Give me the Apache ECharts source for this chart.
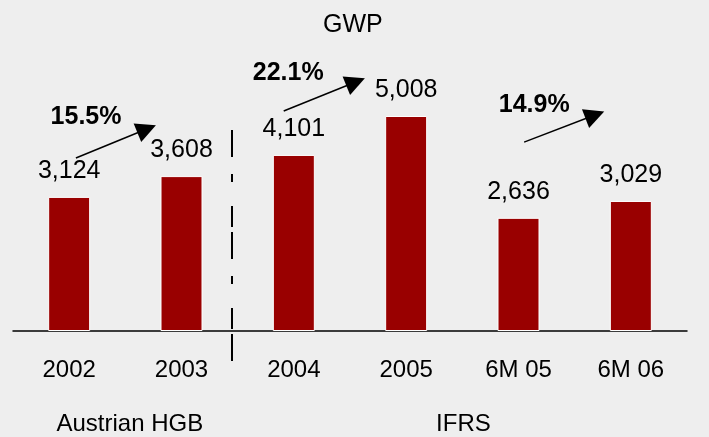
<!DOCTYPE html>
<html>
<head>
<meta charset="utf-8">
<script src="https://cdn.jsdelivr.net/npm/echarts@6/dist/echarts.min.js"></script>
<style>
html, body { margin: 0; padding: 0; background: #eeeeee; }
#main { width: 709px; height: 437px; }
</style>
</head>
<body>
<div id="main"></div>
<script>
var font = 'Liberation Sans, Arial, sans-serif';

// bar data
var categories = ['2002', '2003', '2004', '2005', '6M 05', '6M 06'];
var gwpValues = [3124, 3608, 4101, 5008, 2636, 3029];

// growth arrows, in (category position, value) units
var growthLabels = ['15.5%', '22.1%', '14.9%'];
var arrowFrom = [[0.06, 4030], [1.91, 5125], [4.05, 4400]];
var arrowTo = [[0.69, 4705], [2.55, 5800], [4.68, 5030]];
var growthTextPos = [[0.15, 4985], [1.95, 6010], [4.14, 5265]];

// accounting standard groups under the axis
var groupNames = ['Austrian HGB', 'IFRS'];
var groupPos = [[0.54, -2170], [3.51, -2170]];

// separator between the two groups
var separator = [[1.45, 4680], [1.45, -720]];

var myChart = echarts.init(document.getElementById('main'));

var arrowData = [];
for (var i = 0; i < arrowFrom.length; i++) {
	arrowData.push({ coords: [arrowFrom[i], arrowTo[i]] });
}
var growthData = [];
for (var i = 0; i < growthLabels.length; i++) {
	growthData.push({ name: growthLabels[i], value: growthTextPos[i] });
}
var groupData = [];
for (var i = 0; i < groupNames.length; i++) {
	groupData.push({ name: groupNames[i], value: groupPos[i] });
}

option = {
	backgroundColor: '#eeeeee',
	animation: false,
	title: {
		text: 'GWP',
		left: 318,
		top: 8,
		textStyle: { fontFamily: font, fontSize: 25, fontWeight: 'normal', color: '#000' }
	},
	grid: { left: 13, right: 22, top: 73.4, bottom: 106 },
	xAxis: [{
		type: 'category',
		data: categories,
		axisLine: { lineStyle: { color: '#000', width: 1.5 } },
		axisTick: { show: false },
		axisLabel: { margin: 27, fontFamily: font, fontSize: 24, color: '#000' }
	}, {
		type: 'value',
		min: -0.5,
		max: 5.5,
		show: false
	}],
	yAxis: {
		type: 'value',
		min: 0,
		max: 6000,
		show: false
	},
	series: [{
		type: 'bar',
		data: gwpValues,
		barWidth: 42,
		itemStyle: { color: '#990000', borderColor: '#ffffff', borderWidth: 1 },
		label: {
			show: true,
			position: 'top',
			distance: 13,
			fontFamily: font,
			fontSize: 25,
			color: '#000',
			formatter: function (p) {
				return p.value.toLocaleString('en-US');
			}
		}
	}, {
		type: 'lines',
		coordinateSystem: 'cartesian2d',
		xAxisIndex: 1,
		yAxisIndex: 0,
		clip: false,
		symbol: ['none', 'triangle'],
		symbolSize: [20, 20],
		lineStyle: { color: '#000', width: 1.5, opacity: 1 },
		data: arrowData
	}, {
		type: 'lines',
		coordinateSystem: 'cartesian2d',
		xAxisIndex: 1,
		yAxisIndex: 0,
		clip: false,
		symbol: 'none',
		lineStyle: { color: '#000', width: 2, opacity: 1, type: [27, 17, 8, 24, 21, 5] },
		data: [{ coords: separator }]
	}, {
		type: 'scatter',
		xAxisIndex: 1,
		yAxisIndex: 0,
		clip: false,
		symbolSize: 0,
		itemStyle: { opacity: 1 },
		label: {
			show: true,
			position: 'inside',
			formatter: '{b}',
			fontFamily: font,
			fontSize: 25,
			fontWeight: 'bold',
			color: '#000',
			opacity: 1
		},
		data: growthData
	}, {
		type: 'scatter',
		xAxisIndex: 1,
		yAxisIndex: 0,
		clip: false,
		symbolSize: 0,
		itemStyle: { opacity: 1 },
		label: {
			show: true,
			position: 'inside',
			formatter: '{b}',
			fontFamily: font,
			fontSize: 24,
			color: '#000',
			opacity: 1
		},
		data: groupData
	}]
};

myChart.setOption(option);
</script>
</body>
</html>
